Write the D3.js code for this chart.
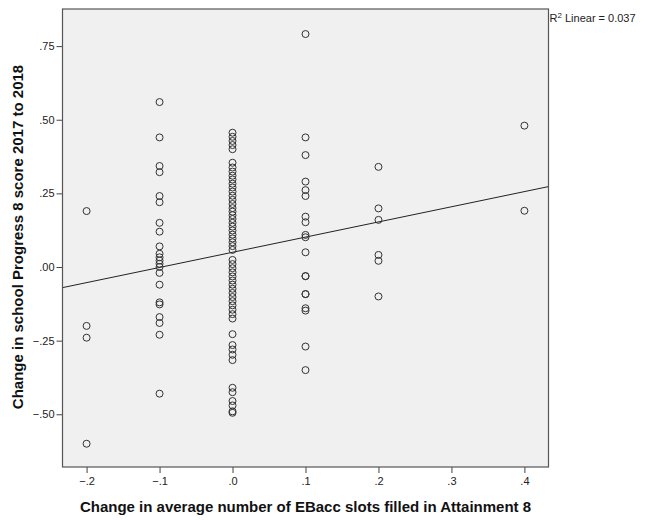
<!DOCTYPE html>
<html><head><meta charset="utf-8">
<script src="https://cdn.jsdelivr.net/npm/d3@7"></script>
<style>
html,body{margin:0;padding:0;background:#fff;}
text{font-family:Arial,"Liberation Sans",sans-serif;}
</style></head>
<body>
<svg id="chart" width="654" height="520"></svg>
<script>
// Data
const xColumns = [-0.2, -0.1, 0.0, 0.1, 0.2, 0.4];
const yAtMinus02 = [0.19, -0.20, -0.24, -0.60];
const yAtMinus01 = [0.56, 0.44, 0.343, 0.322, 0.241, 0.22, 0.15, 0.12, 0.07, 0.045, 0.033, 0.022, 0.011, 0.0, -0.02, -0.06, -0.12, -0.127, -0.17, -0.19, -0.23, -0.43];
const yAt00 = [0.456, 0.442, 0.428, 0.414, 0.40, 0.354, 0.338, 0.324, 0.31, 0.297, 0.283, 0.27, 0.256, 0.242, 0.228, 0.214, 0.20, 0.188, 0.176, 0.163, 0.15, 0.137, 0.124, 0.11, 0.097, 0.084, 0.071, 0.058,
  0.024, 0.01, -0.004, -0.018, -0.032, -0.046, -0.06, -0.074, -0.088, -0.102, -0.116, -0.13, -0.145, -0.16, -0.175, -0.228, -0.265, -0.28, -0.298, -0.316, -0.41, -0.425, -0.455, -0.47, -0.49, -0.495];
const yAt01 = [0.791, 0.44, 0.38, 0.29, 0.261, 0.241, 0.171, 0.152, 0.109, 0.101, 0.05, -0.031, -0.031, -0.092, -0.092, -0.14, -0.148, -0.27, -0.35];
const yAt02 = [0.34, 0.199, 0.16, 0.041, 0.021, -0.10];
const yAt04 = [0.48, 0.191];
const yColumns = [yAtMinus02, yAtMinus01, yAt00, yAt01, yAt02, yAt04];

const xTicks = [-0.2, -0.1, 0.0, 0.1, 0.2, 0.3, 0.4];
const yTicks = [-0.50, -0.25, 0.00, 0.25, 0.50, 0.75];
const xDomain = [-0.233, 0.433];
const yDomain = [-0.679, 0.876];
// Linear fit line (intercept, slope) and R²
const fitCoef = [0.050, 0.515];
const rSquared = "0.037";
const xTitle = "Change in average number of EBacc slots filled in Attainment 8";
const yTitle = "Change in school Progress 8 score 2017 to 2018";

const points = [];
xColumns.forEach((xv, i) => yColumns[i].forEach(yv => points.push({x: xv, y: yv})));

const svg = d3.select("#chart");
const L = 62.5, R = 548.5, T = 9, B = 467;
const x = d3.scaleLinear().domain(xDomain).range([L, R]);
const y = d3.scaleLinear().domain(yDomain).range([B, T]);

svg.append("rect").attr("x", L).attr("y", T).attr("width", R - L).attr("height", B - T)
  .attr("fill", "#f0f0f0").attr("stroke", "none");

const fmt = (p) => d => { const s = d3.format(p)(Math.abs(d) < 1e-9 ? 0 : d); return s.replace("0.", "."); };

const xAxis = svg.append("g").attr("transform", `translate(0,${B})`)
  .call(d3.axisBottom(x).tickValues(xTicks).tickFormat(fmt(".1f")).tickSize(6).tickPadding(4));
const yAxis = svg.append("g").attr("transform", `translate(${L},0)`)
  .call(d3.axisLeft(y).tickValues(yTicks).tickFormat(fmt(".2f")).tickSize(6).tickPadding(2));
[xAxis, yAxis].forEach(g => {
  g.select(".domain").remove();
  g.selectAll(".tick line").attr("stroke", "#444");
  g.selectAll(".tick text").attr("fill", "#222").style("font-size", "11px");
});

// fit line
const fitFn = xv => fitCoef[0] + fitCoef[1] * xv;
svg.append("line")
  .attr("x1", x(xDomain[0])).attr("y1", y(fitFn(xDomain[0])))
  .attr("x2", x(xDomain[1])).attr("y2", y(fitFn(xDomain[1])))
  .attr("stroke", "#222").attr("stroke-width", 1);

svg.append("g").selectAll("circle").data(points).join("circle")
  .attr("cx", d => x(d.x)).attr("cy", d => y(d.y)).attr("r", 3.5)
  .attr("fill", "none").attr("stroke", "#333").attr("stroke-width", 1);

svg.append("rect").attr("x", L).attr("y", T).attr("width", R - L).attr("height", B - T)
  .attr("fill", "none").attr("stroke", "#555").attr("stroke-width", 1.2);

const r2 = svg.append("text").attr("x", R + 1).attr("y", 22).style("font-size", "11px").attr("fill", "#222");
r2.append("tspan").text("R");
r2.append("tspan").attr("dy", -4).style("font-size", "8px").text("2");
r2.append("tspan").attr("dy", 4).text(" Linear = " + rSquared);

svg.append("text").attr("x", 305.5).attr("y", 512).attr("text-anchor", "middle")
  .style("font-size", "15px").style("font-weight", "bold").attr("fill", "#111").text(xTitle);
svg.append("text").attr("transform", "translate(23,237) rotate(-90)").attr("text-anchor", "middle")
  .style("font-size", "15px").style("font-weight", "bold").attr("fill", "#111").text(yTitle);
</script>
</body></html>
